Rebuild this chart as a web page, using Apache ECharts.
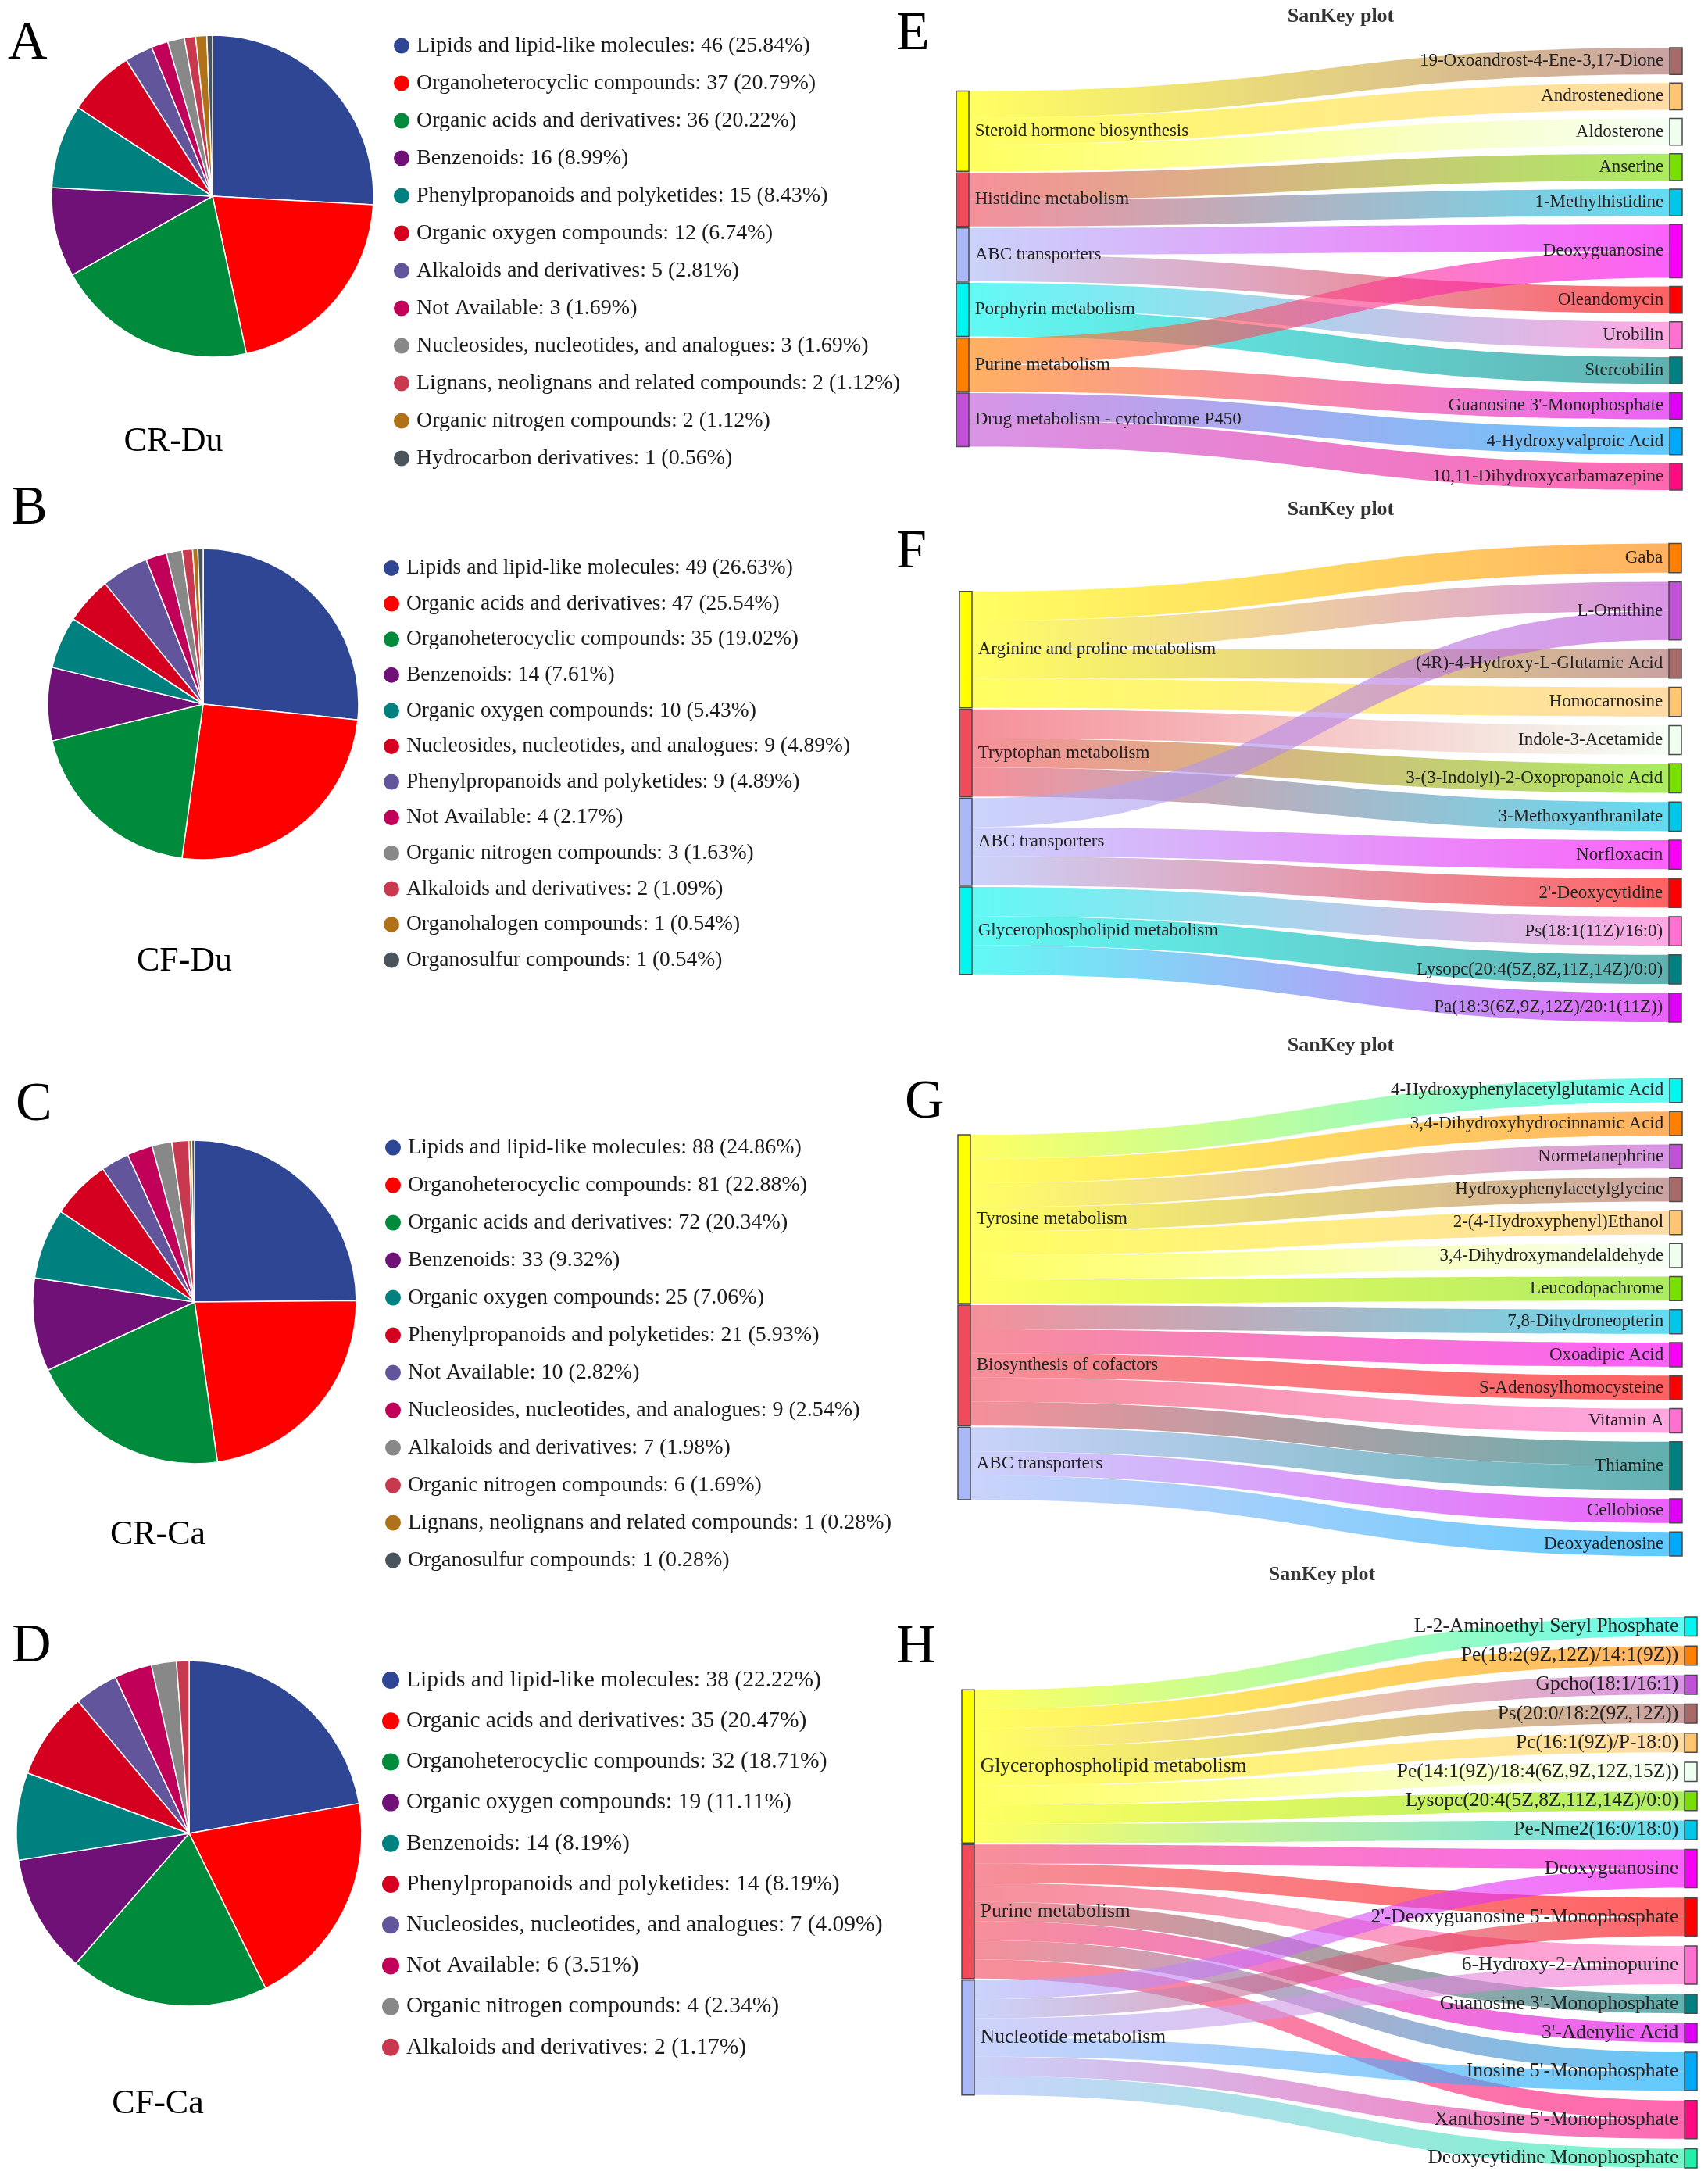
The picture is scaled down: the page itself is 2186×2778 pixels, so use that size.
<!DOCTYPE html>
<html>
<head>
<meta charset="utf-8">
<script src="https://cdn.jsdelivr.net/npm/echarts@6/dist/echarts.min.js"></script>
<style>
html,body{margin:0;padding:0;background:#fff;width:2186px;height:2778px;overflow:hidden}
.c{position:absolute;left:0;top:0;width:2186px;height:2778px}
</style>
</head>
<body>
<script>
// ---------------- DATA ----------------
const crDuCategories = ['Lipids and lipid-like molecules','Organoheterocyclic compounds','Organic acids and derivatives','Benzenoids','Phenylpropanoids and polyketides','Organic oxygen compounds','Alkaloids and derivatives','Not Available','Nucleosides, nucleotides, and analogues','Lignans, neolignans and related compounds','Organic nitrogen compounds','Hydrocarbon derivatives'];
const crDuValues = [46,37,36,16,15,12,5,3,3,2,2,1];

const cfDuCategories = ['Lipids and lipid-like molecules','Organic acids and derivatives','Organoheterocyclic compounds','Benzenoids','Organic oxygen compounds','Nucleosides, nucleotides, and analogues','Phenylpropanoids and polyketides','Not Available','Organic nitrogen compounds','Alkaloids and derivatives','Organohalogen compounds','Organosulfur compounds'];
const cfDuValues = [49,47,35,14,10,9,9,4,3,2,1,1];

const crCaCategories = ['Lipids and lipid-like molecules','Organoheterocyclic compounds','Organic acids and derivatives','Benzenoids','Organic oxygen compounds','Phenylpropanoids and polyketides','Not Available','Nucleosides, nucleotides, and analogues','Alkaloids and derivatives','Organic nitrogen compounds','Lignans, neolignans and related compounds','Organosulfur compounds'];
const crCaValues = [88,81,72,33,25,21,10,9,7,6,1,1];

const cfCaCategories = ['Lipids and lipid-like molecules','Organic acids and derivatives','Organoheterocyclic compounds','Organic oxygen compounds','Benzenoids','Phenylpropanoids and polyketides','Nucleosides, nucleotides, and analogues','Not Available','Organic nitrogen compounds','Alkaloids and derivatives'];
const cfCaValues = [38,35,32,19,14,14,7,6,4,2];

// Sankey E
const eSources = ['Steroid hormone biosynthesis','Histidine metabolism','ABC transporters','Porphyrin metabolism','Purine metabolism','Drug metabolism - cytochrome P450'];
const eTargets = ['19-Oxoandrost-4-Ene-3,17-Dione','Androstenedione','Aldosterone','Anserine','1-Methylhistidine','Deoxyguanosine','Oleandomycin','Urobilin','Stercobilin',"Guanosine 3'-Monophosphate",'4-Hydroxyvalproic Acid','10,11-Dihydroxycarbamazepine'];
const eLinks = [
  ['Steroid hormone biosynthesis','19-Oxoandrost-4-Ene-3,17-Dione',1],
  ['Steroid hormone biosynthesis','Androstenedione',1],
  ['Steroid hormone biosynthesis','Aldosterone',1],
  ['Histidine metabolism','Anserine',1],
  ['Histidine metabolism','1-Methylhistidine',1],
  ['ABC transporters','Deoxyguanosine',1],
  ['ABC transporters','Oleandomycin',1],
  ['Porphyrin metabolism','Urobilin',1],
  ['Porphyrin metabolism','Stercobilin',1],
  ['Purine metabolism','Deoxyguanosine',1],
  ['Purine metabolism',"Guanosine 3'-Monophosphate",1],
  ['Drug metabolism - cytochrome P450','4-Hydroxyvalproic Acid',1],
  ['Drug metabolism - cytochrome P450','10,11-Dihydroxycarbamazepine',1]
];

// Sankey F
const fSources = ['Arginine and proline metabolism','Tryptophan metabolism','ABC transporters','Glycerophospholipid metabolism'];
const fTargets = ['Gaba','L-Ornithine','(4R)-4-Hydroxy-L-Glutamic Acid','Homocarnosine','Indole-3-Acetamide','3-(3-Indolyl)-2-Oxopropanoic Acid','3-Methoxyanthranilate','Norfloxacin',"2'-Deoxycytidine",'Ps(18:1(11Z)/16:0)','Lysopc(20:4(5Z,8Z,11Z,14Z)/0:0)','Pa(18:3(6Z,9Z,12Z)/20:1(11Z))'];
const fLinks = [
  ['Arginine and proline metabolism','Gaba',1],
  ['Arginine and proline metabolism','L-Ornithine',1],
  ['Arginine and proline metabolism','(4R)-4-Hydroxy-L-Glutamic Acid',1],
  ['Arginine and proline metabolism','Homocarnosine',1],
  ['Tryptophan metabolism','Indole-3-Acetamide',1],
  ['Tryptophan metabolism','3-(3-Indolyl)-2-Oxopropanoic Acid',1],
  ['Tryptophan metabolism','3-Methoxyanthranilate',1],
  ['ABC transporters','L-Ornithine',1],
  ['ABC transporters','Norfloxacin',1],
  ['ABC transporters',"2'-Deoxycytidine",1],
  ['Glycerophospholipid metabolism','Ps(18:1(11Z)/16:0)',1],
  ['Glycerophospholipid metabolism','Lysopc(20:4(5Z,8Z,11Z,14Z)/0:0)',1],
  ['Glycerophospholipid metabolism','Pa(18:3(6Z,9Z,12Z)/20:1(11Z))',1]
];

// Sankey G
const gSources = ['Tyrosine metabolism','Biosynthesis of cofactors','ABC transporters'];
const gTargets = ['4-Hydroxyphenylacetylglutamic Acid','3,4-Dihydroxyhydrocinnamic Acid','Normetanephrine','Hydroxyphenylacetylglycine','2-(4-Hydroxyphenyl)Ethanol','3,4-Dihydroxymandelaldehyde','Leucodopachrome','7,8-Dihydroneopterin','Oxoadipic Acid','S-Adenosylhomocysteine','Vitamin A','Thiamine','Cellobiose','Deoxyadenosine'];
const gLinks = [
  ['Tyrosine metabolism','4-Hydroxyphenylacetylglutamic Acid',1],
  ['Tyrosine metabolism','3,4-Dihydroxyhydrocinnamic Acid',1],
  ['Tyrosine metabolism','Normetanephrine',1],
  ['Tyrosine metabolism','Hydroxyphenylacetylglycine',1],
  ['Tyrosine metabolism','2-(4-Hydroxyphenyl)Ethanol',1],
  ['Tyrosine metabolism','3,4-Dihydroxymandelaldehyde',1],
  ['Tyrosine metabolism','Leucodopachrome',1],
  ['Biosynthesis of cofactors','7,8-Dihydroneopterin',1],
  ['Biosynthesis of cofactors','Oxoadipic Acid',1],
  ['Biosynthesis of cofactors','S-Adenosylhomocysteine',1],
  ['Biosynthesis of cofactors','Vitamin A',1],
  ['Biosynthesis of cofactors','Thiamine',1],
  ['ABC transporters','Thiamine',1],
  ['ABC transporters','Cellobiose',1],
  ['ABC transporters','Deoxyadenosine',1]
];

// Sankey H
const hSources = ['Glycerophospholipid metabolism','Purine metabolism','Nucleotide metabolism'];
const hTargets = ['L-2-Aminoethyl Seryl Phosphate','Pe(18:2(9Z,12Z)/14:1(9Z))','Gpcho(18:1/16:1)','Ps(20:0/18:2(9Z,12Z))','Pc(16:1(9Z)/P-18:0)','Pe(14:1(9Z)/18:4(6Z,9Z,12Z,15Z))','Lysopc(20:4(5Z,8Z,11Z,14Z)/0:0)','Pe-Nme2(16:0/18:0)','Deoxyguanosine',"2'-Deoxyguanosine 5'-Monophosphate",'6-Hydroxy-2-Aminopurine',"Guanosine 3'-Monophosphate","3'-Adenylic Acid","Inosine 5'-Monophosphate","Xanthosine 5'-Monophosphate",'Deoxycytidine Monophosphate'];
const hLinks = [
  ['Glycerophospholipid metabolism','L-2-Aminoethyl Seryl Phosphate',1],
  ['Glycerophospholipid metabolism','Pe(18:2(9Z,12Z)/14:1(9Z))',1],
  ['Glycerophospholipid metabolism','Gpcho(18:1/16:1)',1],
  ['Glycerophospholipid metabolism','Ps(20:0/18:2(9Z,12Z))',1],
  ['Glycerophospholipid metabolism','Pc(16:1(9Z)/P-18:0)',1],
  ['Glycerophospholipid metabolism','Pe(14:1(9Z)/18:4(6Z,9Z,12Z,15Z))',1],
  ['Glycerophospholipid metabolism','Lysopc(20:4(5Z,8Z,11Z,14Z)/0:0)',1],
  ['Glycerophospholipid metabolism','Pe-Nme2(16:0/18:0)',1],
  ['Purine metabolism','Deoxyguanosine',1],
  ['Purine metabolism',"2'-Deoxyguanosine 5'-Monophosphate",1],
  ['Purine metabolism','6-Hydroxy-2-Aminopurine',1],
  ['Purine metabolism',"Guanosine 3'-Monophosphate",1],
  ['Purine metabolism',"3'-Adenylic Acid",1],
  ['Purine metabolism',"Inosine 5'-Monophosphate",1],
  ['Purine metabolism',"Xanthosine 5'-Monophosphate",1],
  ['Nucleotide metabolism','Deoxyguanosine',1],
  ['Nucleotide metabolism',"2'-Deoxyguanosine 5'-Monophosphate",1],
  ['Nucleotide metabolism','6-Hydroxy-2-Aminopurine',1],
  ['Nucleotide metabolism',"Inosine 5'-Monophosphate",1],
  ['Nucleotide metabolism',"Xanthosine 5'-Monophosphate",1],
  ['Nucleotide metabolism','Deoxycytidine Monophosphate',1]
];

// ---------------- STYLE ----------------
const FONT = "'Liberation Serif','Times New Roman',serif";
const pieColors = ['#2F4694','#FF0000','#008A3B','#701177','#00807F','#D5001F','#62559C','#C1005A','#888888','#C8384F','#B07218','#4A545D'];
const sankeyPalette = ['#FFFF00','#F04B5B','#AAB8F8','#00F6EE','#FF8000','#C152D7','#A86969','#FFC571','#EFFFEF','#78E000','#00C6EA','#F800F5','#FF0000','#FF70D0','#008080','#DF00F6','#00A8FA','#FF0A80','#22F0A8'];

function makeDiv(id){ const d=document.createElement('div'); d.id=id; d.className='c'; document.body.appendChild(d); return d; }

function txt(text, x, y, size, opts){
  opts = opts || {};
  return {type:'text', x:x, y:y, silent:true, z:100,
    style:{text:text, fontSize:size, fontFamily:FONT, fontWeight:opts.weight||'normal',
      fill:opts.fill||'#000', align:opts.align||'left', verticalAlign:'middle'}};
}

function pieChart(id, cats, vals, cfg){
  const total = vals.reduce((a,b)=>a+b,0);
  const chart = echarts.init(makeDiv(id), null, {renderer:'canvas'});
  chart.setOption({
    animation:false,
    legend:{
      orient:'vertical', left:cfg.legLeft, top:cfg.legTop, padding:0,
      icon:'circle', itemWidth:cfg.icon+6, itemHeight:cfg.icon, itemGap:cfg.legGap,
      selectedMode:false, data:cats,
      textStyle:{fontFamily:FONT, fontSize:cfg.font, lineHeight:cfg.lh, color:'#1a1a1a'},
      formatter:function(name){ const v = vals[cats.indexOf(name)]; return name+': '+v+' ('+(v/total*100).toFixed(2)+'%)'; }
    },
    series:[{
      type:'pie', center:cfg.center, radius:cfg.r, startAngle:90, clockwise:true,
      label:{show:false}, labelLine:{show:false}, emphasis:{disabled:true},
      itemStyle:{borderColor:'#fff', borderWidth:1.5},
      data:cats.map((c,i)=>({name:c, value:vals[i], itemStyle:{color:pieColors[i]}}))
    }],
    graphic:[ txt(cfg.letter, cfg.letterX, cfg.letterY, 70), txt(cfg.label, cfg.labelX, cfg.labelY, 44, {align:'center'}) ]
  });
}

pieChart('pA', crDuCategories, crDuValues, {center:[272,251], r:206, legLeft:502, legTop:44.5, legGap:20, icon:22, font:28, lh:28,
  letter:'A', letterX:10, letterY:57, label:'CR-Du', labelX:222, labelY:565});
pieChart('pB', cfDuCategories, cfDuValues, {center:[260,901], r:199, legLeft:489, legTop:713, legGap:17.6, icon:22, font:27.5, lh:28,
  letter:'B', letterX:14, letterY:652, label:'CF-Du', labelX:236, labelY:1230});
pieChart('pC', crCaCategories, crCaValues, {center:[249,1666], r:207, legLeft:491, legTop:1454.6, legGap:20, icon:22, font:28, lh:28,
  letter:'C', letterX:20, letterY:1415, label:'CR-Ca', labelX:202, labelY:1964});
pieChart('pD', cfCaCategories, cfCaValues, {center:[242,2346], r:221, legLeft:487, legTop:2135, legGap:22.2, icon:24, font:29.5, lh:30,
  letter:'D', letterX:15, letterY:2108, label:'CF-Ca', labelX:202, labelY:2692});

// ---------------- SANKEYS ----------------
function sankeySeries(sources, targets, links, box){
  const nodeVal = {};
  links.forEach(l=>{ nodeVal[l[0]]=(nodeVal[l[0]]||0)+l[2]; nodeVal[l[1]]=(nodeVal[l[1]]||0)+l[2]; });
  const total = sources.reduce((a,s)=>a+nodeVal[s],0);
  const ky = (box.height-(targets.length-1)*box.gap)/total;
  const leftGap = 2;
  const leftH = total*ky + (sources.length-1)*leftGap;
  let y = (box.height-leftH)/2;
  const data = sources.concat(targets).map((n,i)=>{
    const item = {name:n, itemStyle:{color:sankeyPalette[i]}};
    if(i<sources.length){ item.localY = y/box.height; y += nodeVal[n]*ky + leftGap; }
    else { item.label = {position:'left'}; }
    return item;
  });
  return {
    type:'sankey', left:box.left, top:box.top, width:box.width, height:box.height,
    nodeWidth:16, nodeGap:box.gap, layoutIterations:0, nodeAlign:'justify', draggable:false,
    emphasis:{disabled:true},
    data:data,
    links:links.map(l=>({source:l[0], target:l[1], value:l[2]})),
    itemStyle:{borderColor:'#4a4a4a', borderWidth:1.5},
    lineStyle:{color:'gradient', opacity:0.62, curveness:0.5},
    label:{fontFamily:FONT, fontSize:box.font, color:'#222', distance:7}
  };
}

const sk = echarts.init(makeDiv('sk'), null, {renderer:'canvas'});
sk.setOption({
  animation:false,
  series:[
    sankeySeries(eSources, eTargets, eLinks, {left:1224, top:61, width:929, height:566, gap:11, font:23}),
    sankeySeries(fSources, fTargets, fLinks, {left:1228, top:695.5, width:924, height:612.5, gap:11.7, font:23}),
    sankeySeries(gSources, gTargets, gLinks, {left:1226, top:1380, width:927, height:611, gap:11.4, font:23}),
    sankeySeries(hSources, hTargets, hLinks, {left:1231, top:2069, width:941, height:705, gap:12.7, font:25.5})
  ],
  graphic:[
    txt('SanKey plot', 1716, 21, 26, {weight:'bold', align:'center', fill:'#333'}),
    txt('SanKey plot', 1716, 652, 26, {weight:'bold', align:'center', fill:'#333'}),
    txt('SanKey plot', 1716, 1338, 26, {weight:'bold', align:'center', fill:'#333'}),
    txt('SanKey plot', 1692, 2015, 26, {weight:'bold', align:'center', fill:'#333'}),
    txt('E', 1147, 45, 70), txt('F', 1147, 708, 70), txt('G', 1158, 1412, 70), txt('H', 1147, 2109, 70)
  ]
});
</script>
</body>
</html>
